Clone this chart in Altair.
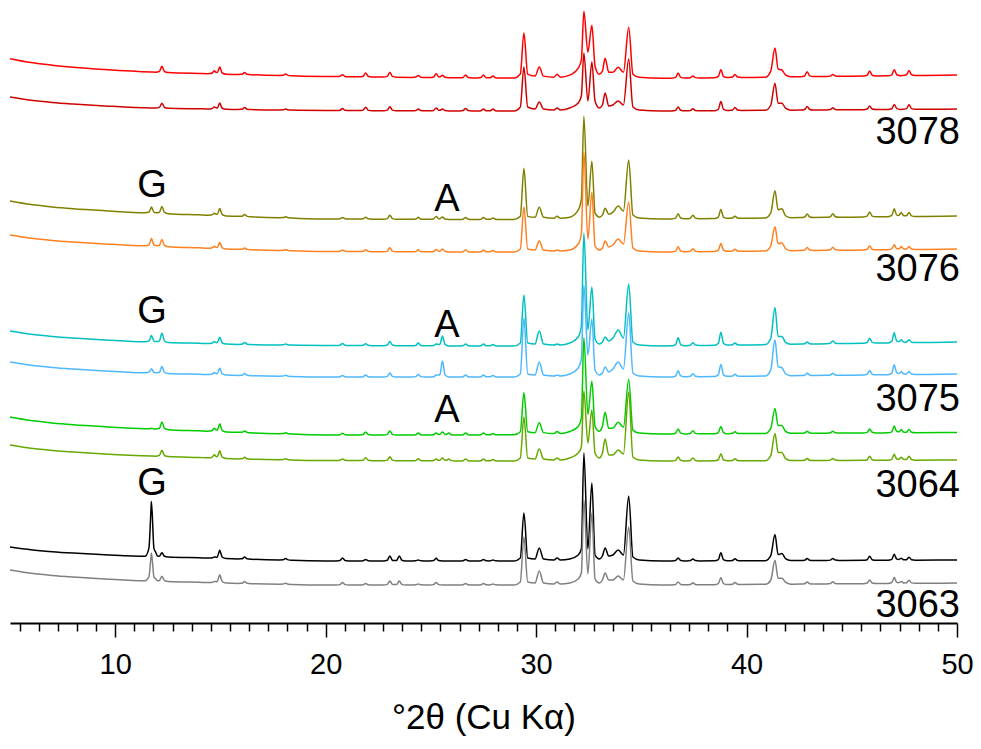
import altair as alt
import pandas as pd

# --- values (stacked intensities, a.u.) ---
TRACES = ["3078 a", "3078 b", "3076 a", "3076 b", "3075 a",
          "3075 b", "3064 a", "3064 b", "3063 a", "3063 b"]
COLORS = ["#FF0000", "#D00000", "#808000", "#FF8020", "#00C0C0",
          "#4DB8FF", "#00CC00", "#66A800", "#000000", "#808080"]

# background level of every trace at these angles
BASE_X = [5, 6, 7, 8, 9.5, 11.7, 14, 16, 20, 27, 36, 50]
BASELINE = [
    [564.3, 560.4, 557.8, 555.8, 553.5, 551, 549.5, 548.5, 546.5, 545, 544.7, 548],
    [526, 522.8, 520.6, 519, 517.1, 515, 514.2, 513.5, 512.5, 512, 512, 514],
    [422, 418.5, 416.1, 414.3, 412.3, 410, 408.2, 406.5, 404, 403.5, 404, 407],
    [388, 384.8, 382.6, 381, 379.1, 377, 375.2, 373.5, 371.5, 371, 371, 374],
    [292, 288.8, 286.6, 285, 283.1, 281, 279.7, 278.5, 277.5, 277, 277, 281],
    [261, 257.8, 255.6, 254, 252.1, 250, 248.7, 247.5, 246, 246, 246, 249],
    [206, 202.5, 200.1, 198.3, 196.3, 194, 192.2, 190.5, 188, 188, 189, 190.5],
    [178, 174.8, 172.6, 171, 169.1, 167, 165.5, 164, 162.5, 162, 162, 163],
    [76, 73.2, 71.3, 69.9, 68.3, 66.5, 65.2, 64, 62, 62, 62, 63],
    [53, 49.8, 47.6, 46, 44.1, 42, 40.7, 39.5, 38, 38, 38, 40],
]

# main reflection group 29-35 deg: height above background
MAIN_X = [28.95, 29.25, 29.42, 29.6, 29.95, 30.15, 30.35, 30.85, 31.0, 31.15,
          31.6, 32.0, 32.15, 32.27, 32.46, 32.65, 32.8, 33.0, 33.15, 33.28,
          33.45, 33.65, 33.9, 34.15, 34.4, 34.6, 34.9]
MAIN_H = [
    [0, 4, 45, 4, 2, 11, 2, 1, 4, 1, 3, 10, 18, 67, 26, 53, 12, 4, 7, 20, 6, 6, 11, 6, 51, 4, 1],
    [0, 4, 44, 4, 2, 9, 2, 1, 3, 1, 3, 8, 15, 58, 10, 49, 10, 3, 6, 18, 5, 6, 10, 6, 52, 4, 1],
    [0, 3, 51, 3, 2, 12, 2, 1, 3, 1, 2, 9, 20, 103, 13, 58, 6, 2, 4, 11, 5, 7, 13, 8, 59, 4, 1],
    [0, 3, 45, 3, 2, 11, 2, 1, 2, 1, 2, 8, 18, 100, 13, 60, 6, 2, 4, 11, 5, 7, 13, 8, 50, 4, 1],
    [0, 3, 51, 3, 2, 15, 2, 1, 2, 1, 3, 9, 20, 113, 16, 59, 7, 2, 4, 9, 5, 8, 16, 8, 62, 4, 1],
    [0, 3, 59, 3, 2, 15, 2, 1, 2, 1, 3, 9, 18, 92, 22, 58, 7, 2, 4, 10, 5, 8, 15, 8, 64, 4, 1],
    [0, 3, 42, 3, 2, 12, 2, 1, 3, 1, 3, 8, 16, 97, 20, 53, 8, 3, 8, 22, 6, 6, 12, 7, 55, 4, 1],
    [0, 3, 44, 3, 2, 12, 2, 1, 3, 1, 3, 8, 14, 70, 18, 51, 8, 3, 8, 22, 6, 6, 11, 7, 69, 4, 1],
    [0, 3, 48, 3, 2, 13, 2, 1, 3, 1, 2, 6, 12, 108, 12, 78, 6, 2, 5, 13, 5, 6, 11, 6, 65, 4, 1],
    [0, 3, 48, 3, 2, 14, 2, 1, 3, 1, 2, 6, 12, 85, 11, 72, 6, 2, 5, 12, 5, 5, 9, 5, 58, 4, 1],
]

# 41.3 deg reflection with its shoulder
SIDE_X = [40.9, 41.15, 41.35, 41.5, 41.68, 41.85, 42.1]
SIDE_H = [
    [0, 6, 29, 8, 7, 2, 0],
    [0, 5, 27, 7, 7, 2, 0],
    [0, 5, 27, 8, 9, 2, 0],
    [0, 5, 24, 7, 8, 2, 0],
    [0, 6, 37, 8, 8, 2, 0],
    [0, 6, 36, 9, 8, 2, 0],
    [0, 5, 25, 8, 8, 2, 0],
    [0, 5, 27, 8, 8, 2, 0],
    [0, 5, 26, 6, 7, 2, 0],
    [0, 4, 24, 6, 6, 2, 0],
]

# small isolated reflections: position and height per trace
PEAK_X = [11.72, 12.22, 14.7, 14.97, 16.15, 18.1, 20.8, 21.9, 23.05, 23.5,
          24.4, 25.25, 25.55, 25.85, 26.65, 27.5, 27.95, 36.75, 37.45, 38.78,
          39.45, 42.88, 44.1, 45.85, 47.02, 47.35, 47.72]
PEAK_H = [
    [0, 6, 3, 7, 2, 1.5, 2, 4, 5, 0, 2, 4, 2.5, 0, 3, 3, 2, 5, 2, 8, 3, 5, 2, 5, 6, 0, 5],
    [0, 5, 2, 6, 2, 1, 2, 3.5, 4, 0, 1.7, 3, 2, 0, 2.5, 2, 2, 4, 2, 9, 3, 3.5, 2, 3.5, 5, 0, 4.5],
    [6, 7, 2, 7, 2, 1, 1.5, 2, 4, 0, 2, 3, 2.5, 0, 2, 2, 1.5, 5, 3.5, 9, 2, 3.5, 3.5, 5, 8, 4, 4],
    [7.5, 7, 2, 6, 1.7, 1, 1.5, 2, 4, 0, 2, 2.5, 3, 0, 2, 2, 1.5, 5, 3, 8, 2, 3, 3, 4, 5, 3, 3],
    [6.5, 9, 2, 6.5, 2, 1, 2, 2, 4.3, 0, 2.7, 2, 10, 0, 2, 2, 1.5, 8, 3, 13, 2, 2, 2.7, 5, 10, 3, 3],
    [4.3, 6.7, 2, 6.7, 2, 1, 1.5, 2, 4, 0, 2.5, 2, 16, 0, 2, 2, 1.5, 6, 3, 12, 2, 2.3, 2, 4.3, 10, 3, 3],
    [0.7, 7.3, 3, 7.7, 1.7, 1, 1.7, 3, 4, 0, 2, 2, 3, 2, 2, 2, 1.5, 5, 3, 7.3, 2, 2, 2, 4, 6.7, 3.3, 3.3],
    [0, 6, 3, 7.3, 1.7, 1, 1.5, 3, 4, 0, 2, 2, 3, 2, 2, 2, 1.5, 4, 3, 7, 2, 2, 2, 4, 6, 3, 4],
    [55, 4, 1, 8, 2, 1.5, 3, 1.5, 5, 5, 1, 2.7, 0, 0, 1.5, 1.5, 1, 3, 2, 8, 2, 2, 2, 4, 6, 2, 3],
    [28, 5, 1, 8, 2, 1, 2.5, 1.5, 4, 4, 1, 2.5, 0, 0, 1.5, 1.5, 1, 3, 2, 7, 2, 2, 2, 3.5, 6, 2, 3],
]

# annotations
SAMPLE_LABELS = ["3078", "3076", "3075", "3064", "3063"]
SAMPLE_Y = [490, 353, 223, 137, 17]
PHASE_LABELS = ["G", "G", "G", "A", "A", "A"]
PHASE_X = [11.75, 11.75, 11.75, 25.76, 25.76, 25.76]
PHASE_Y = [437, 311, 139, 423, 297, 212]


def lerp(x, xs, ys):
    if x < xs[0] or x > xs[-1]:
        return 0.0
    for i in range(len(xs) - 1):
        if xs[i] <= x <= xs[i + 1]:
            t = (x - xs[i]) / (xs[i + 1] - xs[i])
            return ys[i] + t * (ys[i + 1] - ys[i])
    return ys[-1]


# shape of one narrow reflection (offset in deg -> fraction of height)
SHAPE_D = [-0.3, -0.12, 0, 0.12, 0.3]
SHAPE_F = [0, 0.15, 1, 0.15, 0]

rows = []
for k, name in enumerate(TRACES):
    xs = set(BASE_X) | set(MAIN_X) | set(SIDE_X)
    for p, h in zip(PEAK_X, PEAK_H[k]):
        if h > 0:
            xs |= {round(p + d, 3) for d in SHAPE_D}
    for x in sorted(xs):
        if x < 5 or x > 50:
            continue
        y = lerp(x, BASE_X, BASELINE[k])
        y += lerp(x, MAIN_X, MAIN_H[k]) + lerp(x, SIDE_X, SIDE_H[k])
        for p, h in zip(PEAK_X, PEAK_H[k]):
            if h > 0:
                y += h * lerp(x - p, SHAPE_D, SHAPE_F)
        rows.append({"trace": name, "angle": x, "intensity": y})
df = pd.DataFrame(rows)

samples_df = pd.DataFrame({"label": SAMPLE_LABELS, "angle": [50] * 5, "intensity": SAMPLE_Y})
phases_df = pd.DataFrame({"label": PHASE_LABELS, "angle": PHASE_X, "intensity": PHASE_Y})

minor = [d + j * 10 / 11 for d in range(0, 50, 10) for j in range(1, 11)]
ticks = sorted([t for t in minor if 5 <= t <= 50] + [10, 20, 30, 40, 50])

FONT = "Liberation Sans"

x_axis = alt.Axis(
    values=ticks,
    labelExpr="datum.value % 10 === 0 ? format(datum.value, 'd') : ''",
    tickSize={"condition": {"test": "datum.value % 10 === 0", "value": 14}, "value": 8},
    tickColor="black", tickWidth=1.5, domainColor="black", domainWidth=2,
    labelFont=FONT, labelFontSize=29, labelColor="black", labelPadding=13,
    labelOverlap=False, labelFlush=False,
    title="°2θ (Cu Kα)", titleFont=FONT, titleFontSize=35,
    titleFontWeight="normal", titleColor="black", titlePadding=21,
    grid=False,
)

x_enc = alt.X("angle:Q", scale=alt.Scale(domain=[5, 50], nice=False), axis=x_axis)
y_enc = alt.Y("intensity:Q", scale=alt.Scale(domain=[0, 615], nice=False, zero=False), axis=None)

lines = alt.Chart(df).mark_line(strokeWidth=1.5, interpolate="monotone").encode(
    x=x_enc,
    y=y_enc,
    color=alt.Color("trace:N", scale=alt.Scale(domain=TRACES, range=COLORS), legend=None),
)

samples = alt.Chart(samples_df).mark_text(
    align="right", baseline="middle", font=FONT, fontSize=38, color="black", dx=3
).encode(x=x_enc, y=y_enc, text="label:N")

phases = alt.Chart(phases_df).mark_text(
    align="center", baseline="middle", font=FONT, fontSize=38, color="black"
).encode(x=x_enc, y=y_enc, text="label:N")

chart = alt.layer(lines, samples, phases).properties(
    width=947, height=615,
    autosize=alt.AutoSizeParams(type="none"),
    padding={"left": 2, "top": 0, "right": 16, "bottom": 118},
    background="white",
).configure_view(stroke=None)

chart.save("out.html", embed_options={"renderer": "svg", "actions": False})
